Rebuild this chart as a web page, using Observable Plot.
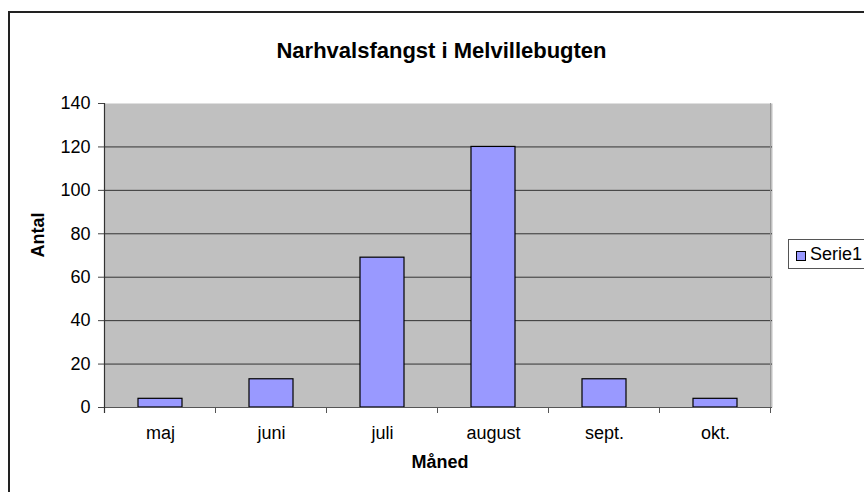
<!DOCTYPE html>
<html>
<head>
<meta charset="utf-8">
<script src="https://cdn.jsdelivr.net/npm/d3@7"></script>
<script src="https://cdn.jsdelivr.net/npm/@observablehq/plot@0.6"></script>
<style>
  html, body { margin: 0; padding: 0; background: #fff; overflow: hidden; }
  #wrap { position: relative; width: 864px; height: 492px; overflow: hidden; font-family: "Liberation Sans", Arial, sans-serif; }
  #border { position: absolute; left: 8px; top: 11px; width: 1000px; height: 1000px; border: 2px solid #222; box-sizing: border-box; pointer-events: none; }
  #chart { position: absolute; left: 0; top: 0; }
  #legend { position: absolute; left: 788px; top: 239px; width: 120px; height: 30px; border: 1px solid #555; box-sizing: border-box; background: #fff; }
  #legend .sw { position: absolute; left: 7px; top: 11px; width: 10px; height: 10px; background: #9999ff; border: 1px solid #000; box-sizing: border-box; }
  #legend .lbl { position: absolute; left: 21px; top: 5px; font-size: 18px; line-height: 18px; color: #000; white-space: nowrap; }
</style>
</head>
<body>
<div id="wrap">
  <div id="chart"></div>
  <div id="border"></div>
  <div id="legend"><div class="sw"></div><div class="lbl">Serie1</div></div>
</div>
<script>
const months = ["maj", "juni", "juli", "august", "sept.", "okt."];
const values = [4, 13, 69, 120, 13, 4];
const yTicks = [0, 20, 40, 60, 80, 100, 120, 140];
const gridTicks = [20, 40, 60, 80, 100, 120];
const title = "Narhvalsfangst i Melvillebugten";
const xLabel = "Måned";
const yLabel = "Antal";

const data = months.map((m, i) => ({month: m, value: values[i]}));

const chart = Plot.plot({
  width: 864,
  height: 492,
  marginLeft: 104,
  marginRight: 92,
  marginTop: 103,
  marginBottom: 85,
  style: {fontFamily: "'Liberation Sans', Arial, sans-serif", fontSize: "18px", color: "#000", background: "transparent"},
  x: {domain: months, paddingInner: 0.6, paddingOuter: 0.3, label: null},
  y: {domain: [0, 140], ticks: yTicks, label: null},
  marks: [
    Plot.frame({fill: "#c0c0c0", stroke: null}),
    Plot.gridY(gridTicks, {stroke: "#333", strokeOpacity: 1}),
    Plot.barY(data, {x: "month", y: "value", fill: "#9999ff", stroke: "#000", strokeWidth: 1.2}),
    Plot.ruleY([0], {stroke: "#555", strokeWidth: 1.2}),
    Plot.axisY({ticks: yTicks, tickSize: 6, tickPadding: 8, stroke: "#444", label: null}),
    Plot.axisX({tickSize: 0, tickPadding: 19, label: null}),
    Plot.text([title], {frameAnchor: "top", dx: 3, dy: -60.7, fontSize: 22, fontWeight: "bold", fill: "#000"}),
    Plot.text([xLabel], {frameAnchor: "bottom", dx: 1.5, dy: 60, fontSize: 18, fontWeight: "bold", fill: "#000"}),
    Plot.text([yLabel], {frameAnchor: "left", dx: -66.5, dy: 2, rotate: -90, fontSize: 18, fontWeight: "bold", fill: "#000"})
  ]
});

// axis line and boundary tick marks, positioned through Plot's own scales
const xs = chart.scale("x");
const ys = chart.scale("y");
const svg = d3.select(chart);
const gap = (xs.step - xs.bandwidth) / 2;
const bounds = months.map(m => xs.apply(m) - gap);
bounds.push(xs.apply(months[months.length - 1]) + xs.bandwidth + gap);
const y0 = ys.apply(0), yTop = ys.apply(140);
const g = svg.append("g");
g.selectAll("line.bt").data(bounds).join("line")
  .attr("x1", d => d).attr("x2", d => d)
  .attr("y1", y0).attr("y2", y0 + 6)
  .attr("stroke", "#555").attr("stroke-width", 1);
// right edge of plot area
g.append("line")
  .attr("x1", bounds[bounds.length - 1]).attr("x2", bounds[bounds.length - 1])
  .attr("y1", yTop).attr("y2", y0)
  .attr("stroke", "#9a9a9a").attr("stroke-width", 1);
// left y axis line
g.append("line")
  .attr("x1", bounds[0]).attr("x2", bounds[0])
  .attr("y1", yTop).attr("y2", y0 + 6)
  .attr("stroke", "#333").attr("stroke-width", 1.2);

document.getElementById("chart").appendChild(chart);
</script>
</body>
</html>
